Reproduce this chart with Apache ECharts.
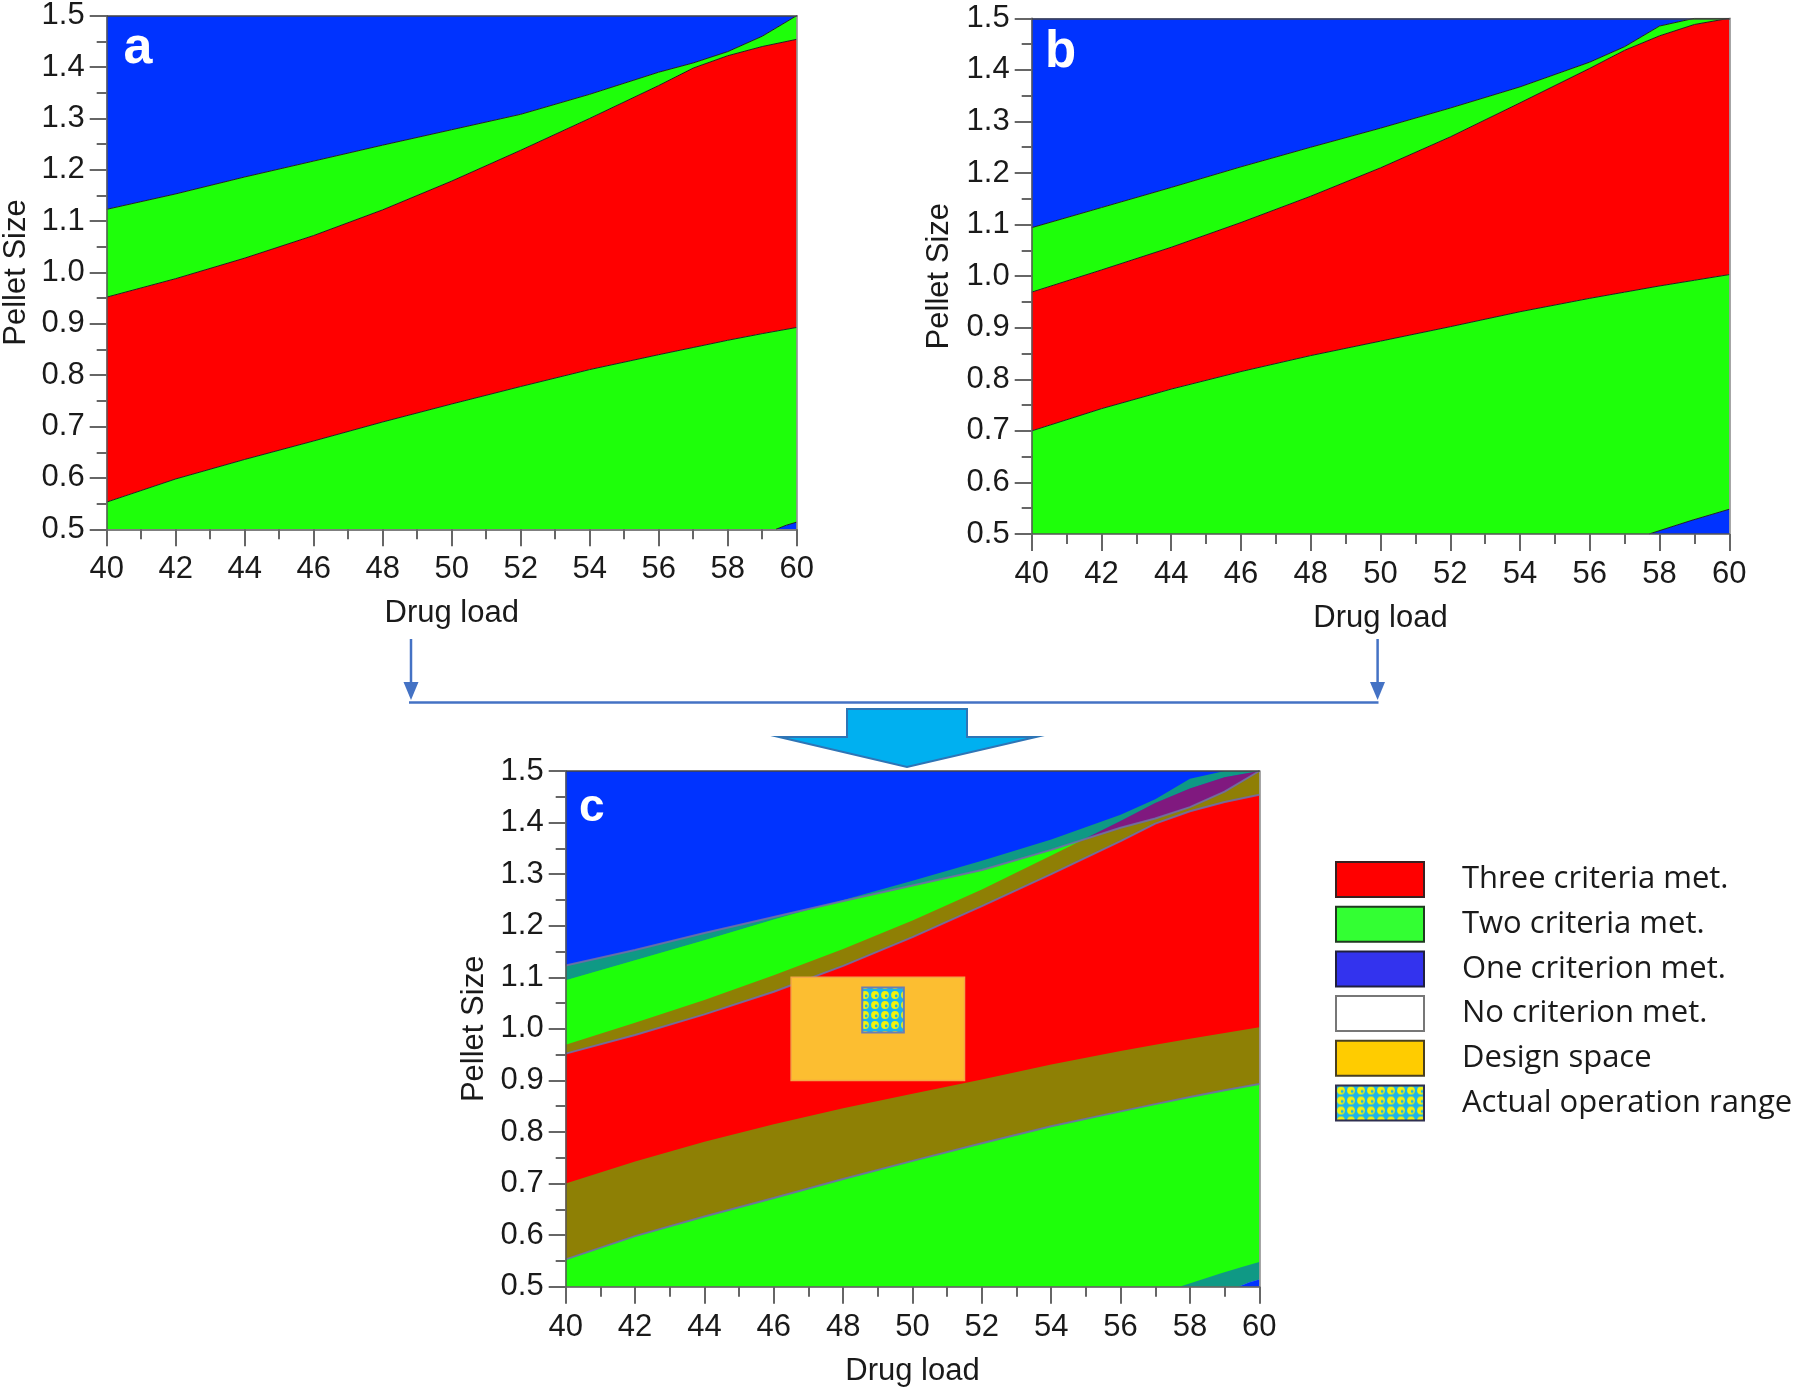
<!DOCTYPE html>
<html><head><meta charset="utf-8">
<script src="https://cdn.jsdelivr.net/npm/echarts@6/dist/echarts.min.js"></script>
<style>html,body{margin:0;padding:0;background:#fff}#chart{width:1800px;height:1392px}</style>
</head><body><div id="chart"></div>
<script>
// ---------------- data ----------------
const drugLoad = [40, 42, 44, 46, 48, 50, 52, 54, 56, 57, 58, 59, 60];
// panel a boundaries (Pellet Size at each drug load)
const aBlueGreen = [1.123, 1.153, 1.186, 1.217, 1.248, 1.278, 1.308, 1.347, 1.390, 1.408, 1.430, 1.460, 1.500];
const aRedUpper  = [0.952, 0.988, 1.028, 1.072, 1.122, 1.178, 1.238, 1.300, 1.364, 1.398, 1.422, 1.440, 1.454];
const aRedLower  = [0.553, 0.598, 0.636, 0.672, 0.709, 0.744, 0.778, 0.811, 0.840, 0.854, 0.868, 0.881, 0.893];
const aCornerX = [59.4, 59.7, 60];
const aCornerY = [0.500, 0.508, 0.514];
// panel b boundaries
const bBlueGreen = [1.094, 1.133, 1.172, 1.212, 1.250, 1.287, 1.326, 1.367, 1.415, 1.445, 1.485, 1.500, 1.500];
const bRedUpper  = [0.969, 1.012, 1.056, 1.104, 1.155, 1.210, 1.270, 1.336, 1.403, 1.438, 1.466, 1.488, 1.500];
const bRedLower  = [0.700, 0.743, 0.781, 0.815, 0.846, 0.874, 0.902, 0.931, 0.957, 0.969, 0.981, 0.992, 1.003];
const bCornerX = [57.7, 58.3, 58.9, 59.5, 60];
const bCornerY = [0.500, 0.513, 0.526, 0.538, 0.548];
// design space and actual operation range (panel c)
const designX = [46.5, 51.5];
const designY = [0.9, 1.1];
const operX = [48.55, 49.75];
const operY = [0.993, 1.08];
// axes
const xRange = [40, 60];
const xStep = 2;
const yRange = [0.5, 1.5];
const yStep = 0.1;
const xName = 'Drug load';
const yName = 'Pellet Size';
const panelLetters = ['a', 'b', 'c'];
const legendLabels = ['Three criteria met.', 'Two criteria met.', 'One criterion met.', 'No criterion met.', 'Design space', 'Actual operation range'];

// ---------------- styling / build ----------------
const COL = {red: '#FF0000', green: '#1EFF0A', blue: '#0033FF'};
const FONT = "'Liberation Sans', Arial, sans-serif";
const FS = 31;
const TXT = '#1a1a1a';

function pts(xs, ys) { return xs.map((x, i) => [x, ys[i]]); }
function regions(bg, ru, rl, cx, cy) {
  const top = drugLoad.map(() => yRange[1]);
  return [
    {color: COL.blue,  points: pts(drugLoad, bg).concat(pts(drugLoad, top).reverse())},
    {color: COL.green, points: pts(drugLoad, ru).concat(pts(drugLoad, bg).reverse())},
    {color: COL.red,   points: pts(drugLoad, rl).concat(pts(drugLoad, ru).reverse())},
    {color: COL.green, points: pts(drugLoad, rl).concat(pts(cx, cy).reverse(), [[drugLoad[0], yRange[0]]])},
    {color: COL.blue,  points: pts(cx, cy).concat([[cx[cx.length - 1], yRange[0]]])}
  ];
}
const regA = regions(aBlueGreen, aRedUpper, aRedLower, aCornerX, aCornerY);
const regB = regions(bBlueGreen, bRedUpper, bRedLower, bCornerX, bCornerY);

function polygonSeries(idx, region, opacity, z) {
  const data = region.points;
  return {
    type: 'custom', xAxisIndex: idx, yAxisIndex: idx, silent: true, z: z, clip: true, data: data,
    renderItem: function (params, api) {
      if (params.dataIndex !== 0) return;
      return {type: 'polygon', shape: {points: data.map(p => api.coord(p))},
              style: {fill: region.color, opacity: opacity}};
    }
  };
}
function rectSeries(idx, xs, ys, style, z) {
  const data = [[xs[0], ys[0]], [xs[1], ys[1]]];
  return {
    type: 'custom', xAxisIndex: idx, yAxisIndex: idx, silent: true, z: z, clip: true, data: data,
    renderItem: function (params, api) {
      if (params.dataIndex !== 0) return;
      const p0 = api.coord(data[0]), p1 = api.coord(data[1]);
      return {type: 'rect', shape: {x: p0[0], y: p1[1], width: p1[0] - p0[0], height: p0[1] - p1[1]}, style: style};
    }
  };
}
function lineSeries(idx, xs, ys, color, width, z) {
  return {type: 'line', xAxisIndex: idx, yAxisIndex: idx, data: pts(xs, ys), symbol: 'none', showSymbol: false,
          silent: true, z: z, clip: true, lineStyle: {color: color, width: width}};
}

function makePattern() {
  const c = document.createElement('canvas');
  c.width = 10; c.height = 10;
  const g = c.getContext('2d');
  g.fillStyle = '#1BB4EC'; g.fillRect(0, 0, 10, 10);
  g.fillStyle = '#F2F20C'; g.beginPath(); g.arc(5, 5, 3.9, 0, Math.PI * 2); g.fill();
  g.fillStyle = '#1BB4EC'; g.beginPath(); g.arc(6.2, 6.0, 1.4, 0, Math.PI * 2); g.fill();
  return c;
}
const pattern = {image: makePattern(), repeat: 'repeat'};

const grids = [
  {left: 106.7, top: 15.7, width: 690, height: 513.6},
  {left: 1031.7, top: 18.3, width: 697.6, height: 515.7},
  {left: 565.7, top: 771, width: 693.6, height: 515.7}
].map(g => Object.assign({containLabel: false, outerBoundsMode: 'none'}, g));

const yNameGaps = [75, 77, 76];
const xAxes = [], yAxes = [];
for (let i = 0; i < 3; i++) {
  xAxes.push({
    type: 'value', gridIndex: i, min: xRange[0], max: xRange[1], interval: xStep, position: 'bottom', z: 10,
    axisLine: {show: true, onZero: false, lineStyle: {color: '#555', width: 1.5}},
    axisTick: {show: true, length: 17, lineStyle: {color: '#666', width: 2}},
    minorTick: {show: true, splitNumber: 2, length: 10, lineStyle: {color: '#666', width: 2}},
    splitLine: {show: false}, minorSplitLine: {show: false},
    axisLabel: {fontFamily: FONT, fontSize: FS, color: TXT, margin: 25},
    name: xName, nameLocation: 'middle', nameGap: 69,
    nameTextStyle: {fontFamily: FONT, fontSize: FS, color: TXT}
  });
  yAxes.push({
    type: 'value', gridIndex: i, min: yRange[0], max: yRange[1], interval: yStep, position: 'left', z: 10,
    axisLine: {show: true, onZero: false, lineStyle: {color: '#555', width: 1.5}},
    axisTick: {show: true, length: 17, lineStyle: {color: '#666', width: 2}},
    minorTick: {show: true, splitNumber: 2, length: 10, lineStyle: {color: '#666', width: 2}},
    splitLine: {show: false}, minorSplitLine: {show: false},
    axisLabel: {fontFamily: FONT, fontSize: FS, color: TXT, margin: 22, formatter: v => v.toFixed(1)},
    name: yName, nameLocation: 'middle', nameGap: yNameGaps[i],
    nameTextStyle: {fontFamily: FONT, fontSize: FS, color: TXT}
  });
}
for (let i = 0; i < 3; i++) {
  xAxes.push({type: 'value', gridIndex: i, min: xRange[0], max: xRange[1], position: 'top', z: 10,
    axisLine: {show: true, onZero: false, lineStyle: {color: '#444', width: 1.5}},
    axisTick: {show: false}, axisLabel: {show: false}, splitLine: {show: false}});
  yAxes.push({type: 'value', gridIndex: i, min: yRange[0], max: yRange[1], position: 'right', z: 10,
    axisLine: {show: true, onZero: false, lineStyle: {color: '#888', width: 1.5}},
    axisTick: {show: false}, axisLabel: {show: false}, splitLine: {show: false}});
}

const series = [];
regA.forEach(r => series.push(polygonSeries(0, r, 1, 2)));
regB.forEach(r => series.push(polygonSeries(1, r, 1, 2)));
regA.forEach(r => series.push(polygonSeries(2, r, 1, 2)));
regB.forEach(r => series.push(polygonSeries(2, r, 0.5, 3)));
// boundary outlines
[aBlueGreen, aRedUpper, aRedLower].forEach(a => series.push(lineSeries(0, drugLoad, a, '#202020', 1, 4)));
series.push(lineSeries(0, aCornerX, aCornerY, '#202020', 1, 4));
[bBlueGreen, bRedUpper, bRedLower].forEach(a => series.push(lineSeries(1, drugLoad, a, '#202020', 1, 4)));
series.push(lineSeries(1, bCornerX, bCornerY, '#202020', 1, 4));
[aBlueGreen, aRedUpper, aRedLower].forEach(a => series.push(lineSeries(2, drugLoad, a, 'rgba(110,110,165,0.9)', 2, 4)));
// design space and operation range
series.push(rectSeries(2, designX, designY, {fill: '#FCBE31', stroke: '#F4A646', lineWidth: 1.5}, 5));
series.push(rectSeries(2, operX, operY, {fill: pattern, stroke: '#6A7DB6', lineWidth: 2}, 6));
// legend entries
const legendStyles = [
  {color: '#FF0000', borderColor: '#3a2020', borderWidth: 2},
  {color: '#33FF33', borderColor: '#203a20', borderWidth: 2},
  {color: '#3333EE', borderColor: '#202040', borderWidth: 2},
  {color: '#FFFFFF', borderColor: '#777777', borderWidth: 2},
  {color: '#FFCC00', borderColor: '#4a4020', borderWidth: 2},
  {color: pattern, borderColor: '#303050', borderWidth: 2}
];
legendLabels.forEach((name, i) => series.push({type: 'bar', name: name, xAxisIndex: 0, yAxisIndex: 0, data: [], itemStyle: legendStyles[i]}));

const letterStyle = [
  {x: 123.5, y: 48.2, size: 52},
  {x: 1045, y: 52.9, size: 51},
  {x: 579, y: 808.4, size: 46}
];
const graphics = panelLetters.map((t, i) => ({
  type: 'text', z: 100, silent: true,
  style: {text: t, x: letterStyle[i].x, y: letterStyle[i].y, fill: '#fff', font: 'bold ' + letterStyle[i].size + 'px ' + FONT, verticalAlign: 'middle', align: 'left'}
}));
const ARROW = '#4472C4';
graphics.push(
  {type: 'line', z: 100, silent: true, shape: {x1: 411, y1: 639, x2: 411, y2: 684}, style: {stroke: ARROW, lineWidth: 2.5}},
  {type: 'polygon', z: 100, silent: true, shape: {points: [[403.5, 682], [418.5, 682], [411, 700]]}, style: {fill: ARROW}},
  {type: 'line', z: 100, silent: true, shape: {x1: 1377.6, y1: 639, x2: 1377.6, y2: 684}, style: {stroke: ARROW, lineWidth: 2.5}},
  {type: 'polygon', z: 100, silent: true, shape: {points: [[1370, 682], [1385, 682], [1377.6, 700]]}, style: {fill: ARROW}},
  {type: 'line', z: 100, silent: true, shape: {x1: 409, y1: 702.5, x2: 1378.5, y2: 702.5}, style: {stroke: ARROW, lineWidth: 2.5}},
  {type: 'polygon', z: 100, silent: true,
   shape: {points: [[847, 709], [967, 709], [967, 737], [1036, 737], [907, 767], [779, 737], [847, 737]]},
   style: {fill: '#00B0F0', stroke: '#2E75B6', lineWidth: 2}}
);

const chart = echarts.init(document.getElementById('chart'), null, {renderer: 'canvas', width: 1800, height: 1392});
chart.setOption({
  animation: false,
  backgroundColor: '#ffffff',
  grid: grids,
  xAxis: xAxes,
  yAxis: yAxes,
  legend: {
    orient: 'vertical', left: 1335, top: 861, padding: 0, itemWidth: 88, itemHeight: 35, itemGap: 7.7,
    icon: 'rect', selectedMode: false, data: legendLabels,
    textStyle: {fontFamily: 'Open Sans, sans-serif', fontSize: 31, color: '#1a1a1a', padding: [0, 0, 0, 33]}
  },
  graphic: graphics,
  series: series
});
</script></body></html>
